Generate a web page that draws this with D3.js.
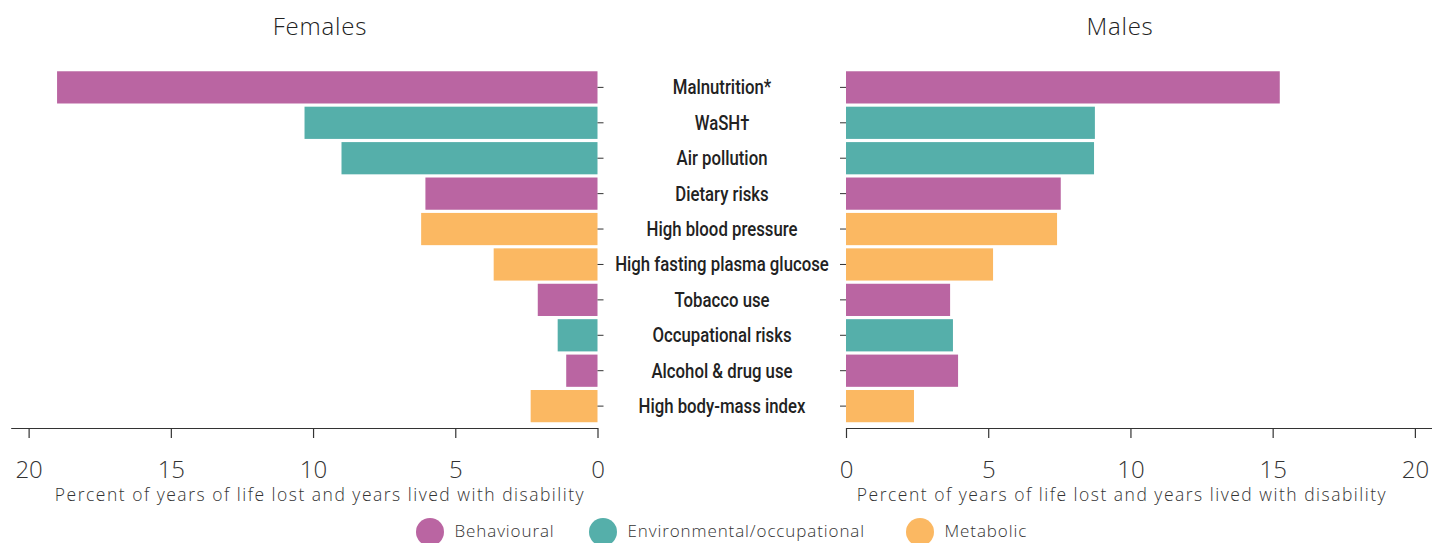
<!DOCTYPE html>
<html><head><meta charset="utf-8">
<script src="https://cdn.jsdelivr.net/npm/d3@7"></script>
<style>
body{margin:0;background:#fff;}
svg{display:block;}
.lt{font-family:"Open Sans",Lato,sans-serif;font-weight:300;}
</style></head>
<body>
<svg id="c" width="1432" height="543"></svg>
<script>
const categories = ["Malnutrition*","WaSH\u2020","Air pollution","Dietary risks","High blood pressure","High fasting plasma glucose","Tobacco use","Occupational risks","Alcohol & drug use","High body-mass index"];
const groups = ["Behavioural","Environmental/occupational","Environmental/occupational","Behavioural","Metabolic","Metabolic","Behavioural","Environmental/occupational","Behavioural","Metabolic"];
const females = [19.0, 10.3, 9.0, 6.05, 6.2, 3.65, 2.1, 1.4, 1.1, 2.35];
const males = [15.25, 8.75, 8.72, 7.55, 7.42, 5.17, 3.66, 3.76, 3.94, 2.39];
const legendKeys = ["Behavioural","Environmental/occupational","Metabolic"];
const xTicks = [0,5,10,15,20];
const axisTitle = "Percent of years of life lost and years lived with disability";

const color = d3.scaleOrdinal().domain(legendKeys).range(["#BA65A2","#55AFAA","#FBB862"]);
const svg = d3.select("#c");
const maxV = 20.63;
const xL = d3.scaleLinear().domain([0,maxV]).range([597.5,10.7]);
const xR = d3.scaleLinear().domain([0,maxV]).range([846,1432.8]);
const y = d3.scaleBand().domain(categories).range([69.5,424]).paddingInner(0.09).paddingOuter(0.05);
const axisY = 428;

// titles
svg.append("text").attr("class","lt").attr("x",320).attr("y",35).attr("text-anchor","middle")
  .style("font-size","24px").style("letter-spacing","0.8px").style("fill","#222").text("Females");
svg.append("text").attr("class","lt").attr("x",1120).attr("y",35).attr("text-anchor","middle")
  .style("font-size","24px").style("letter-spacing","0.8px").style("fill","#222").text("Males");

// bars
svg.append("g").selectAll("rect").data(categories).join("rect")
  .attr("x",(d,i)=>xL(females[i])).attr("width",(d,i)=>xL(0)-xL(females[i]))
  .attr("y",d=>y(d)).attr("height",y.bandwidth()).attr("fill",(d,i)=>color(groups[i]));
svg.append("g").selectAll("rect").data(categories).join("rect")
  .attr("x",xR(0)).attr("width",(d,i)=>xR(males[i])-xR(0))
  .attr("y",d=>y(d)).attr("height",y.bandwidth()).attr("fill",(d,i)=>color(groups[i]));

// category ticks
const gl = svg.append("g").attr("transform",`translate(${xL(0)},0)`).call(d3.axisRight(y).tickSize(6).tickFormat(""));
gl.select(".domain").remove();
gl.selectAll("line").attr("stroke","#333");
const gr = svg.append("g").attr("transform",`translate(${xR(0)},0)`).call(d3.axisLeft(y).tickSize(6).tickFormat(""));
gr.select(".domain").remove();
gr.selectAll("line").attr("stroke","#333");

// category labels (condensed look via horizontal scale)
svg.append("g").selectAll("text").data(categories).join("text")
  .attr("transform",d=>`translate(722,${y(d)+y.bandwidth()/2}) scale(0.86,1)`)
  .attr("dy","0.36em").attr("text-anchor","middle")
  .style("font-family","Roboto,sans-serif").style("font-weight",500).style("font-size","19.5px").style("fill","#222")
  .text(d=>d);

// x axes
function styleAx(g){
  g.select(".domain").attr("stroke","#333").attr("stroke-width",1.2);
  g.selectAll(".tick line").attr("stroke","#333").attr("stroke-width",1.2);
  g.selectAll(".tick text").attr("class","lt").attr("dy","0").attr("y",50)
    .style("font-size","24px").attr("fill","#333");
}
const axL = svg.append("g").attr("transform",`translate(0,${axisY})`).call(d3.axisBottom(xL).tickValues(xTicks).tickSize(10).tickSizeOuter(0).tickFormat(d3.format("d")));
styleAx(axL);
const axR = svg.append("g").attr("transform",`translate(0,${axisY})`).call(d3.axisBottom(xR).tickValues(xTicks).tickSize(10).tickSizeOuter(0).tickFormat(d3.format("d")));
styleAx(axR);

svg.append("text").attr("class","lt").attr("x",320).attr("y",501).attr("text-anchor","middle")
  .style("font-size","17.5px").style("letter-spacing","1.5px").style("fill","#333").text(axisTitle);
svg.append("text").attr("class","lt").attr("x",1122).attr("y",501).attr("text-anchor","middle")
  .style("font-size","17.5px").style("letter-spacing","1.5px").style("fill","#333").text(axisTitle);

// legend
const legX = [430,603,920];
const lg = svg.append("g").selectAll("g").data(legendKeys).join("g").attr("transform",(d,i)=>`translate(${legX[i]},532)`);
lg.append("ellipse").attr("rx",14).attr("ry",14).attr("fill",d=>color(d));
lg.append("text").attr("class","lt").attr("x",24.5).attr("y",-1).attr("dy","0.35em").style("font-size","17px").style("letter-spacing","0.9px").style("fill","#333").text(d=>d);
</script>
</body></html>
